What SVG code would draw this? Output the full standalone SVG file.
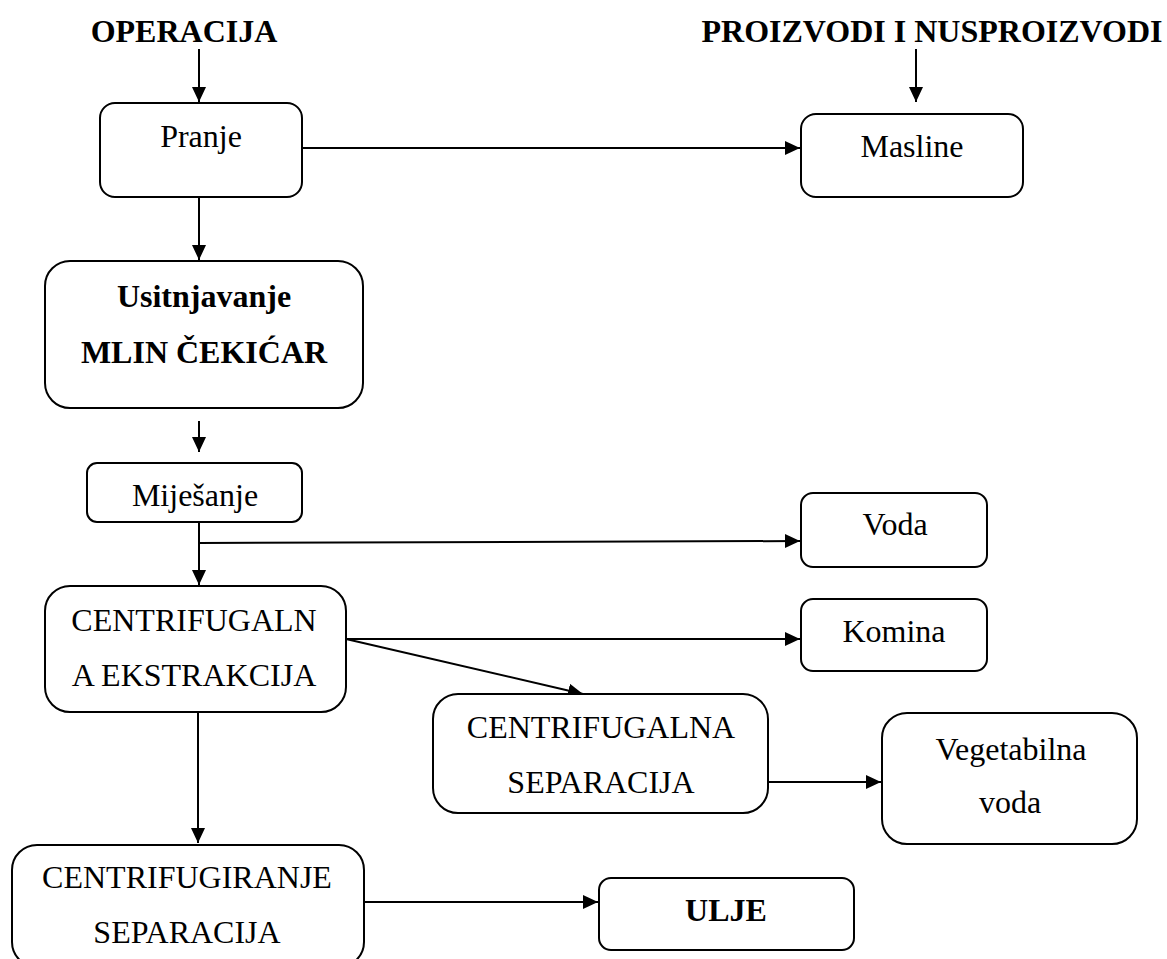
<svg xmlns="http://www.w3.org/2000/svg" width="1167" height="959" viewBox="0 0 1167 959">
<style>
.box{fill:#fff;stroke:#000;stroke-width:2}
.t{font-family:"Liberation Serif","Times New Roman",serif;font-size:32px;fill:#000;text-anchor:middle}
.b{font-weight:bold}
.c{fill:none;stroke:#000;stroke-width:2}
</style>
<defs>
<marker id="ah" markerUnits="userSpaceOnUse" markerWidth="16" markerHeight="15" refX="15" refY="7" orient="auto">
<path d="M0,0 L15,7 L0,14 z" fill="#000"/>
</marker>
</defs>
<rect width="1167" height="959" fill="#fff"/>
<g id="headers">
<text class="t b" x="184" y="42">OPERACIJA</text>
<text class="t b" x="932" y="42">PROIZVODI I NUSPROIZVODI</text>
</g>
<g id="connectors">
<line class="c" x1="199" y1="49" x2="199" y2="102" marker-end="url(#ah)"/>
<line class="c" x1="916" y1="49" x2="916" y2="102" marker-end="url(#ah)"/>
<line class="c" x1="302" y1="148" x2="800" y2="148" marker-end="url(#ah)"/>
<line class="c" x1="199" y1="197" x2="199" y2="260" marker-end="url(#ah)"/>
<line class="c" x1="199" y1="421" x2="199" y2="452" marker-end="url(#ah)"/>
<line class="c" x1="199" y1="522" x2="199" y2="585" marker-end="url(#ah)"/>
<line class="c" x1="199" y1="543" x2="800" y2="541" marker-end="url(#ah)"/>
<line class="c" x1="346" y1="639" x2="800" y2="639" marker-end="url(#ah)"/>
<line class="c" x1="346" y1="639" x2="583" y2="694" marker-end="url(#ah)"/>
<line class="c" x1="198" y1="712" x2="198" y2="843" marker-end="url(#ah)"/>
<line class="c" x1="768" y1="782" x2="881" y2="782" marker-end="url(#ah)"/>
<line class="c" x1="364" y1="902" x2="598" y2="902" marker-end="url(#ah)"/>
</g>
<g id="pranje">
<rect class="box" x="100" y="103" width="202" height="94" rx="15"/>
<text class="t" x="201" y="147">Pranje</text>
</g>
<g id="masline">
<rect class="box" x="801" y="114" width="222" height="83" rx="15"/>
<text class="t" x="912" y="157">Masline</text>
</g>
<g id="usitnjavanje">
<rect class="box" x="45" y="261" width="318" height="147" rx="25"/>
<text class="t b" x="204" y="307">Usitnjavanje</text>
<text class="t b" x="204" y="363">MLIN ČEKIĆAR</text>
</g>
<g id="mijesanje">
<rect class="box" x="87" y="463" width="215" height="59" rx="10"/>
<text class="t" x="195" y="506">Miješanje</text>
</g>
<g id="voda">
<rect class="box" x="801" y="493" width="186" height="74" rx="12"/>
<text class="t" x="895" y="535">Voda</text>
</g>
<g id="ekstrakcija">
<rect class="box" x="45" y="586" width="301" height="126" rx="25"/>
<text class="t" x="194" y="631">CENTRIFUGALN</text>
<text class="t" x="194" y="686">A EKSTRAKCIJA</text>
</g>
<g id="komina">
<rect class="box" x="801" y="599" width="186" height="72" rx="12"/>
<text class="t" x="894" y="642">Komina</text>
</g>
<g id="separacija">
<rect class="box" x="433" y="694" width="335" height="119" rx="25"/>
<text class="t" x="601" y="738">CENTRIFUGALNA</text>
<text class="t" x="601" y="793">SEPARACIJA</text>
</g>
<g id="vegetabilna">
<rect class="box" x="882" y="713" width="255" height="131" rx="25"/>
<text class="t" x="1011" y="760">Vegetabilna</text>
<text class="t" x="1010" y="813">voda</text>
</g>
<g id="centrifugiranje">
<rect class="box" x="12" y="845" width="352" height="122" rx="25"/>
<text class="t" x="187" y="888">CENTRIFUGIRANJE</text>
<text class="t" x="187" y="943">SEPARACIJA</text>
</g>
<g id="ulje">
<rect class="box" x="599" y="878" width="255" height="72" rx="12"/>
<text class="t b" x="726" y="921">ULJE</text>
</g>
</svg>
